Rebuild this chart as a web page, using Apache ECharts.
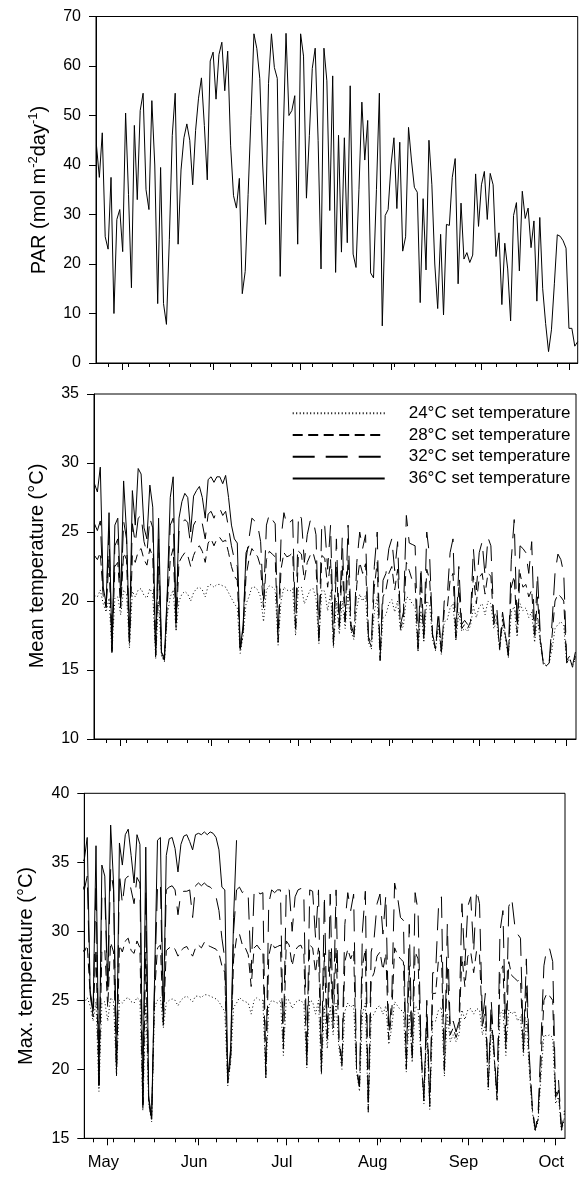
<!DOCTYPE html>
<html>
<head>
<meta charset="utf-8">
<script src="https://cdn.jsdelivr.net/npm/echarts@6/dist/echarts.min.js"></script>
<style>
html,body{margin:0;padding:0;background:#fff;}
#chart{width:579px;height:1181px;}
</style>
</head>
<body>
<div id="chart"></div>
<script>
// ---- data (day 0 = 1 May) ----
const dayStart = -9;
const monthTickDays = [0, 31, 61, 92, 123, 153];
const monthNames = ['May', 'Jun', 'Jul', 'Aug', 'Sep', 'Oct'];
const weekTickDays = [-5, 2, 9, 16, 23, 30, 37, 44, 51, 58, 65, 72, 79, 86, 93, 100, 107, 114, 121, 128, 135, 142, 149];
const seriesNames = ['24°C set temperature', '28°C set temperature', '32°C set temperature', '36°C set temperature'];

const parValues = [
44,37.5,46.5,25.5,23,37.5,10,29,31,22.5,
50.5,34,15.2,48,33,51,54.5,35,31,53,
40,12,39.5,12,7.8,25,46,54.5,24,39,
45.5,48.3,45,36,47,53.5,57.6,48,37,61,
62.8,53.3,62.3,64.8,55,63,44,33.8,31.3,37.3,
14,18.5,34,50,66.5,63.5,57.5,40,28,56.5,
66.5,59.7,57.5,17.5,45,66.6,50,51,54,24,
66.5,62,33.3,46,59.5,63.6,45,19,63.6,57,
30.8,58,18.3,46,22.4,45.5,24.3,56,22,19.3,
35,52.7,41,49,18.2,17.2,35,54.5,7.5,29.8,
31,40,45.5,31.2,44.6,22.6,25.5,47.6,41,35.5,
34.5,12.2,33.2,18.8,45,36,20,11,26,9.7,
28,27.8,37.5,41.3,16,32.3,21,22.3,20.3,21.8,
38.2,27.6,36,38.7,29,38.3,36,21.5,26.3,11.8,
24.2,19,8.5,29.8,32.4,18.6,34.7,29.2,31.3,23.3,
28.7,12.5,29.4,15,8,2.3,6.7,16,25.9,25.6,
24.7,23.2,7,7,3.4,4.3];

const mean24 = [
20.4,20.3,20.8,19.8,19.2,20.2,16.2,20.2,20.3,19.0,
20.8,20.5,16.6,20.7,20.3,20.8,20.9,20.4,20.2,20.9,
20.5,15.8,20.0,16.0,15.6,19.0,20.3,20.8,17.8,20.0,
20.5,20.7,20.5,20.0,20.6,20.9,21.0,20.8,20.3,21.1,
21.2,21.0,21.2,21.2,21.1,21.0,20.6,20.2,19.8,19.5,
16.2,17.5,19.8,20.3,21.0,21.0,20.8,20.3,18.5,20.8,
21.1,21.0,20.8,16.8,20.0,21.0,20.8,20.7,20.9,17.5,
21.0,21.0,19.8,20.3,20.8,20.9,20.2,16.9,20.8,20.7,
19.3,20.6,16.6,20.0,17.6,20.0,18.0,20.5,17.8,17.2,
19.5,20.5,20.0,20.4,17.0,16.5,19.2,20.3,15.6,18.8,
19.0,19.8,20.1,19.2,20.0,17.8,18.2,20.3,20.2,19.8,
19.6,16.3,19.3,17.0,20.0,19.7,17.2,16.4,18.3,16.1,
18.5,18.6,19.5,19.8,17.1,19.2,17.8,18.0,17.8,18.2,
19.6,18.8,19.6,19.8,19.0,20.0,19.8,18.0,18.5,16.4,
18.3,17.3,15.9,19.2,19.6,17.4,19.8,19.3,19.5,18.8,
19.2,17.0,18.8,16.8,15.6,15.3,15.5,16.5,18.0,18.3,
18.5,18.2,15.6,15.8,15.3,15.8];

const mean28 = [
23.3,23.0,23.5,20.4,19.5,23.0,16.3,22.5,22.8,19.5,
23.5,23.0,16.8,23.3,22.8,23.6,23.8,23.0,22.6,23.8,
23.2,16.0,22.5,16.1,15.7,19.8,23.0,23.8,18.0,22.8,
23.2,23.5,23.3,22.5,23.3,23.8,24.0,23.6,22.8,24.2,
24.5,24.0,24.5,24.6,24.3,24.4,23.5,22.5,21.8,21.5,
16.4,17.8,21.8,23.0,23.8,23.5,23.2,22.5,19.5,23.0,
23.6,23.4,23.2,17.0,22.3,23.5,23.2,23.3,23.5,17.8,
23.6,23.4,21.5,22.8,23.3,23.5,22.7,17.1,23.3,23.1,
21.0,23.0,16.8,22.5,17.9,22.6,18.3,23.0,18.0,17.4,
21.2,22.8,22.0,22.7,17.2,16.7,21.0,22.8,15.7,20.3,
20.8,22.0,22.5,20.8,22.3,18.0,18.7,22.8,22.2,21.5,
21.3,16.5,21.0,17.2,22.3,21.5,17.4,16.5,18.8,16.2,
19.3,19.4,21.5,22.0,17.3,21.0,18.0,18.3,18.0,18.5,
21.8,19.8,21.7,22.0,20.5,22.0,21.8,18.3,19.0,16.5,
18.7,17.5,16.0,21.0,21.8,17.7,22.0,21.0,21.2,20.3,
20.8,17.3,20.3,17.0,15.5,15.3,15.5,17.5,20.0,20.5,
20.3,20.0,15.5,15.9,15.2,16.0];

const mean32 = [
25.6,25.1,25.8,20.6,19.6,25.1,16.4,24.0,24.5,19.8,
25.8,24.5,17.0,25.6,24.2,26.0,26.2,24.3,23.5,26.0,
25.3,16.1,24.5,16.2,15.8,20.3,25.5,26.0,18.2,25.0,
25.6,25.9,25.7,24.0,25.5,25.9,26.0,25.6,24.5,26.3,
26.5,26.0,26.6,26.7,26.2,26.5,25.3,24.0,23.0,22.5,
16.5,18.0,23.0,24.5,26.0,25.8,25.5,24.3,20.0,25.5,
26.3,25.9,25.6,17.2,24.5,26.4,25.5,25.7,25.9,18.0,
26.3,26.0,22.8,24.8,25.8,25.9,24.8,17.3,25.7,25.4,
22.3,25.5,17.0,24.5,18.2,24.6,18.6,25.5,18.3,17.6,
22.8,25.0,23.8,24.8,17.4,16.9,22.5,25.0,15.8,21.5,
22.0,23.8,24.5,22.2,24.3,18.3,19.2,26.2,24.2,24.1,
24.0,16.7,22.5,17.4,25.0,23.2,17.6,16.6,19.3,16.3,
20.0,20.2,23.5,24.5,17.5,22.5,18.3,18.6,18.3,18.8,
23.8,20.8,23.5,24.3,21.8,24.6,24.0,18.6,19.6,16.7,
19.2,17.7,16.1,23.0,25.9,18.0,24.0,23.8,23.5,22.0,
24.3,17.6,22.0,17.3,15.4,15.2,15.6,18.5,22.0,23.4,
23.0,22.0,15.7,16.0,15.3,16.3];

const mean36 = [
28.5,27.9,29.7,21.0,19.8,26.4,16.5,25.5,26.0,20.2,
28.7,25.0,17.2,28.0,25.5,29.6,29.2,25.3,24.5,28.4,
26.8,16.2,26.0,16.3,15.9,20.8,27.5,29.0,18.4,26.0,
27.2,27.8,27.5,25.0,27.6,28.0,28.3,27.5,26.0,28.8,
29.0,28.6,29.0,29.0,28.5,29.1,27.5,25.5,24.5,24.2,
16.6,18.2,23.5,24.0];

const max24 = [
25.0,24.8,25.2,24.6,23.5,24.9,18.4,24.8,24.9,23.5,
25.2,24.9,19.5,25.0,24.8,25.1,25.2,24.9,24.8,25.2,
25.0,17.0,24.8,17.5,16.2,24.5,25.0,25.2,23.0,24.8,
25.0,25.1,25.0,24.6,25.0,25.2,25.3,25.1,24.9,25.3,
25.3,25.2,25.4,25.4,25.3,25.2,25.1,24.9,24.5,24.2,
18.8,20.5,24.5,24.8,25.2,25.0,24.9,24.8,24.0,25.0,
25.2,25.0,25.0,19.3,24.6,25.0,24.9,24.8,25.0,21.0,
25.1,25.0,24.4,24.8,25.0,25.0,24.7,20.1,25.0,24.9,
24.0,25.0,19.6,24.6,21.5,24.6,22.5,24.8,21.5,20.0,
24.2,24.8,24.5,24.7,19.8,18.4,24.0,24.8,16.8,23.8,
24.0,24.5,24.6,24.0,24.6,21.8,23.0,24.9,24.6,24.3,
24.2,19.8,24.0,20.5,24.6,24.4,21.0,17.5,23.0,17.1,
23.5,23.5,24.3,24.5,19.5,24.0,22.0,22.5,22.0,22.5,
24.3,23.6,24.3,24.4,24.0,24.4,24.3,22.5,23.3,18.5,
23.0,20.8,17.7,24.0,24.3,21.0,24.3,24.0,24.2,23.5,
23.8,21.0,23.5,20.0,17.0,15.5,16.2,19.5,22.5,22.4,
22.5,22.3,17.5,18.0,15.5,16.5];

const max28 = [
28.8,28.5,29.0,25.5,23.8,28.7,18.6,28.6,28.7,24.5,
29.2,28.5,19.6,29.0,28.5,29.3,29.5,28.6,28.4,29.3,
28.8,17.2,28.5,17.6,16.3,25.5,28.8,29.0,23.2,28.6,
28.8,28.9,28.7,28.2,28.6,28.8,28.9,28.5,28.2,28.8,
29.0,28.8,29.2,29.0,28.9,28.8,28.7,28.4,27.5,27.0,
19.0,20.8,28.0,29.5,29.8,29.0,28.8,28.3,26.0,28.8,
29.0,28.7,28.6,19.4,28.2,29.2,28.8,28.9,29.0,21.5,
29.3,29.0,27.5,28.6,28.9,29.0,28.4,20.3,29.0,28.8,
27.0,28.8,19.8,28.4,22.0,28.5,23.0,28.8,22.0,20.3,
27.8,28.7,28.0,28.6,20.0,18.6,27.5,28.7,17.0,26.5,
27.0,28.2,28.5,27.2,28.4,22.2,24.0,28.8,28.3,28.0,
27.8,20.0,27.5,20.8,28.5,28.0,21.3,17.7,24.0,17.3,
25.5,25.5,28.0,28.3,19.7,27.5,22.5,23.0,22.3,23.0,
28.2,26.0,28.2,28.5,27.0,28.6,28.3,23.0,24.5,18.7,
24.0,21.0,17.8,27.0,27.5,21.5,27.8,26.8,26.6,26.4,
26.5,21.3,26.0,20.5,17.2,15.6,16.4,20.5,25.0,25.5,
25.3,25.0,17.8,18.5,15.6,16.8];

const max32 = [
33.5,33.0,34.0,25.5,24.0,33.5,18.8,32.5,32.8,25.5,
34.5,33.0,19.8,34.2,32.0,33.8,34.0,33.0,32.0,33.9,
33.5,17.4,33.0,17.8,16.4,26.0,33.2,33.5,23.4,33.0,
33.2,33.3,33.0,31.2,32.8,32.9,32.9,33.0,31.0,33.3,
33.5,33.3,33.5,33.3,33.2,33.0,32.5,31.5,29.5,28.0,
19.2,21.0,30.0,33.0,33.2,32.8,33.0,32.5,27.0,32.8,
33.1,32.7,32.8,19.6,32.0,33.0,32.8,33.0,33.0,22.0,
33.2,33.0,30.0,32.5,33.0,33.1,32.5,20.5,33.0,32.9,
29.5,33.0,20.0,32.6,22.5,32.7,23.5,33.0,22.3,20.6,
30.5,32.8,31.5,32.7,20.2,18.8,30.0,32.9,17.2,28.5,
29.5,32.0,32.7,29.8,32.6,22.6,25.0,33.5,32.5,31.0,
30.8,20.2,30.5,21.0,32.8,31.5,21.6,17.9,25.0,17.5,
27.0,27.0,31.8,32.5,20.0,30.5,23.0,23.5,22.7,23.5,
32.0,27.5,31.8,32.5,28.5,33.0,32.0,23.5,25.5,18.9,
25.0,21.3,18.0,30.0,31.5,22.0,31.8,32.4,30.5,29.8,
29.5,21.5,28.0,21.0,17.5,15.6,16.8,22.0,27.5,28.8,
28.7,27.8,18.0,19.2,15.7,17.0];

const max36 = [
35.0,35.2,36.8,25.7,24.2,36.2,18.9,34.8,34.0,26.0,
37.7,33.5,20.0,36.4,34.8,37.0,37.4,35.5,33.5,37.0,
36.3,17.5,36.1,18.0,16.5,26.5,36.6,36.8,23.6,35.5,
36.7,36.8,36.0,34.3,36.3,36.9,37.0,36.5,35.9,37.0,
37.1,37.0,37.2,37.0,37.2,37.1,36.8,35.9,33.2,33.0,
19.4,21.5,31.0,36.6];

// ---- build ----
const FONT = '"Liberation Sans", Arial, Helvetica, sans-serif';
const toPts = arr => arr.map((v, i) => [dayStart + i, v]);
const dashes = [[1, 2.5], [10, 5.5], [22, 11], 'solid'];

const grids = [
  {left: 96, width: 481.7, top: 16.5, height: 346.5, xmin: -9.15, xmax: 156.0, ymin: 0, ymax: 70, yint: 10},
  {left: 94, width: 482, top: 394, height: 345, xmin: -9.16, xmax: 156.2, ymin: 10, ymax: 35, yint: 5},
  {left: 84.3, width: 480.7, top: 793.3, height: 345, xmin: -8, xmax: 156.2, ymin: 15, ymax: 40, yint: 5}
];

const labelDays = monthTickDays.map(d => d - 1.5);

const xAxes = [];
const yAxes = [];
grids.forEach((g, gi) => {
  xAxes.push({
    type: 'value', gridIndex: gi, position: 'bottom', min: g.xmin, max: g.xmax,
    splitLine: {show: false},
    axisLine: {show: true, onZero: false, lineStyle: {color: '#000', width: 1}},
    axisTick: {show: true, inside: false, length: 7, customValues: monthTickDays, lineStyle: {color: '#000', width: 1}},
    axisLabel: gi === 2 ? {
      show: true, customValues: labelDays, margin: 16, color: '#000', fontSize: 16.5, fontFamily: FONT,
      formatter: v => { const k = labelDays.findIndex(d => Math.abs(d - v) < 0.01); return k >= 0 ? monthNames[k] : ''; }
    } : {show: false}
  });
  xAxes.push({
    type: 'value', gridIndex: gi, position: 'bottom', min: g.xmin, max: g.xmax,
    splitLine: {show: false},
    axisLine: {show: false, onZero: false},
    axisTick: {show: true, inside: false, length: 4, customValues: weekTickDays, lineStyle: {color: '#000', width: 1}},
    axisLabel: {show: false}
  });
  yAxes.push({
    type: 'value', gridIndex: gi, position: 'left', min: g.ymin, max: g.ymax, interval: g.yint,
    splitLine: {show: false},
    axisLine: {show: true, onZero: false, lineStyle: {color: '#000', width: 1}},
    axisTick: {show: true, inside: false, length: 7, lineStyle: {color: '#000', width: 1}},
    axisLabel: {show: true, margin: 15, color: '#000', fontSize: 16, fontFamily: FONT}
  });
});

const series = [];
series.push({
  name: 'PAR', type: 'line', xAxisIndex: 0, yAxisIndex: 0, data: toPts(parValues),
  symbol: 'none', showSymbol: false, lineStyle: {color: '#000', width: 1}, itemStyle: {color: '#000'}
});
const meanSets = [mean24, mean28, mean32, mean36];
const maxSets = [max24, max28, max32, max36];
meanSets.forEach((arr, k) => {
  series.push({
    name: seriesNames[k], type: 'line', xAxisIndex: 2, yAxisIndex: 1, data: toPts(arr),
    symbol: 'none', showSymbol: false, lineStyle: {color: '#000', width: 1, type: dashes[k]}, itemStyle: {color: '#000'}
  });
});
maxSets.forEach((arr, k) => {
  series.push({
    name: seriesNames[k], type: 'line', xAxisIndex: 4, yAxisIndex: 2, data: toPts(arr),
    symbol: 'none', showSymbol: false, lineStyle: {color: '#000', width: 1, type: dashes[k]}, itemStyle: {color: '#000'}
  });
});

function vTitle(x, y, text, rich) {
  return {
    type: 'text', x: x, y: y, rotation: Math.PI / 2,
    style: {text: text, fill: '#000', fontSize: 20, fontFamily: FONT, align: 'center', verticalAlign: 'middle', rich: rich}
  };
}

const option = {
  animation: false,
  backgroundColor: '#fff',
  color: ['#000'],
  textStyle: {fontFamily: FONT, color: '#000'},
  grid: grids.map(g => ({left: g.left, width: g.width, top: g.top, height: g.height, show: true, borderColor: '#000', borderWidth: 1, backgroundColor: 'transparent', containLabel: false})),
  xAxis: xAxes,
  yAxis: yAxes,
  legend: {
    data: seriesNames, orient: 'vertical', left: 291.7, top: 403.3, padding: 0,
    itemWidth: 92, itemHeight: 14, itemGap: 1.7, selectedMode: false,
    itemStyle: {opacity: 0, borderWidth: 0},
    textStyle: {fontSize: 17, fontFamily: FONT, color: '#000', padding: [0, 0, 0, 19], lineHeight: 20}
  },
  graphic: [
    vTitle(38, 190, '{n|PAR (mol m}{s|-2}{n|day}{s|-1}{n|)}', {
      n: {fontSize: 20, fontFamily: FONT, fill: '#000', lineHeight: 22, verticalAlign: 'bottom'},
      s: {fontSize: 13, fontFamily: FONT, fill: '#000', lineHeight: 22, verticalAlign: 'top'}
    }),
    vTitle(37, 566, 'Mean temperature (°C)'),
    vTitle(26, 966, 'Max. temperature (°C)')
  ],
  series: series
};

const chart = echarts.init(document.getElementById('chart'), null, {renderer: 'canvas'});
chart.setOption(option);
</script>
</body>
</html>
